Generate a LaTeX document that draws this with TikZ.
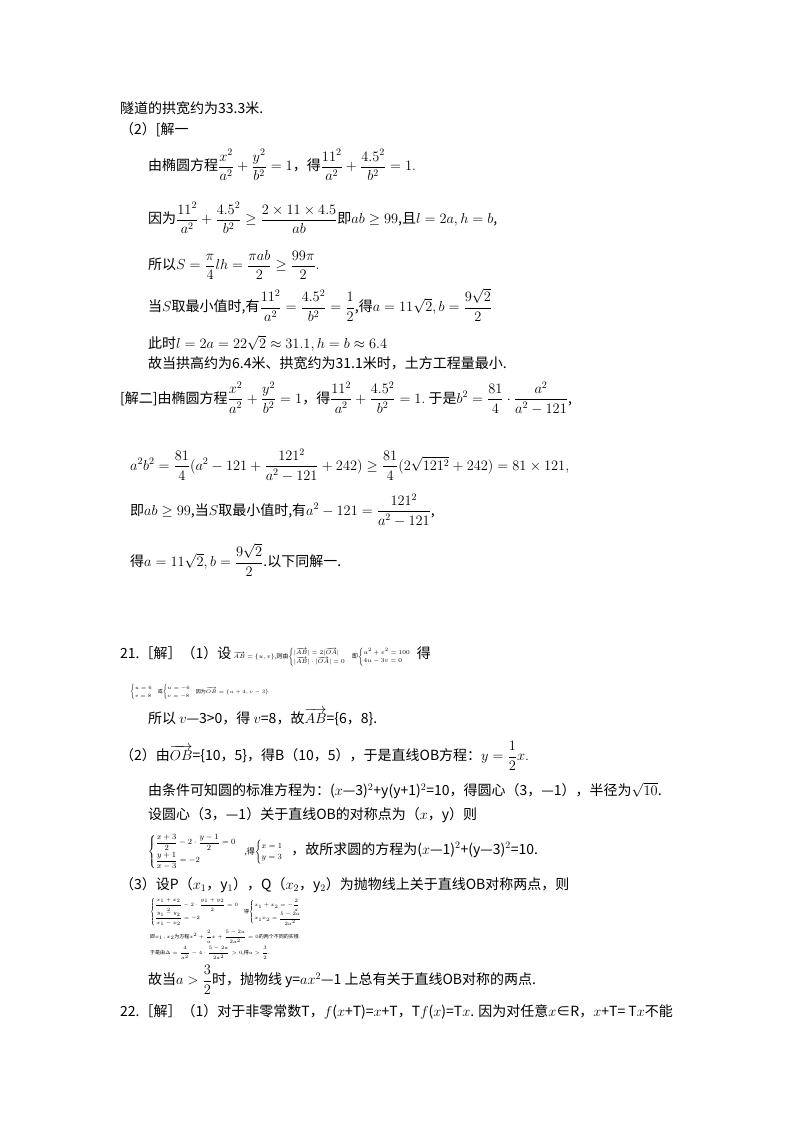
\documentclass[tikz,border=0pt]{standalone}
\usepackage{amsmath,amssymb}
\usepackage{fontspec}
\newfontfamily\cjk{Noto Sans CJK SC}
\begin{document}
\begin{tikzpicture}[x=1pt,y=-1pt,
  ln/.style={anchor=west,inner sep=0pt,font=\fontsize{14}{17}\selectfont\cjk},
  sm/.style={anchor=west,inner sep=0pt,font=\fontsize{5}{6}\selectfont\cjk}]
\useasboundingbox[fill=white] (0,0) rectangle (800,1132);
\node[ln] (l1) at (120,108) {隧道的拱宽约为33.3米.};
\node[ln] (l2) at (120,130) {（2）[解一};
\node[ln] (l3) at (148,165) {由椭圆方程$\dfrac{x^2}{a^2}+\dfrac{y^2}{b^2}=1$，得$\dfrac{11^2}{a^2}+\dfrac{4.5^2}{b^2}=1.$};
\node[ln] (l4) at (148,218) {因为$\dfrac{11^2}{a^2}+\dfrac{4.5^2}{b^2}\ge\dfrac{2\times11\times4.5}{ab}$即$ab\ge99$,且$l=2a,h=b$,};
\node[ln] (l5) at (148,265) {所以$S=\dfrac{\pi}{4}lh=\dfrac{\pi ab}{2}\ge\dfrac{99\pi}{2}.$};
\node[ln] (l6) at (148,305) {当$S$取最小值时,有$\dfrac{11^2}{a^2}=\dfrac{4.5^2}{b^2}=\dfrac12$,得$a=11\sqrt2,b=\dfrac{9\sqrt2}{2}$};
\node[ln] (l7) at (148,343) {此时$l=2a=22\sqrt2\approx31.1,h=b\approx6.4$};
\node[ln] (l8) at (148,363) {故当拱高约为6.4米、拱宽约为31.1米时，土方工程量最小.};
\node[ln] (l9) at (120,398) {[解二]由椭圆方程$\dfrac{x^2}{a^2}+\dfrac{y^2}{b^2}=1$，得$\dfrac{11^2}{a^2}+\dfrac{4.5^2}{b^2}=1.$ 于是$b^2=\dfrac{81}{4}\cdot\dfrac{a^2}{a^2-121}$,};
\node[ln] (l10) at (130,465) {$a^2b^2=\dfrac{81}{4}(a^2-121+\dfrac{121^2}{a^2-121}+242)\ge\dfrac{81}{4}(2\sqrt{121^2}+242)=81\times121,$};
\node[ln] (l11) at (130,510) {即$ab\ge99$,当$S$取最小值时,有$a^2-121=\dfrac{121^2}{a^2-121}$,};
\node[ln] (l12) at (130,560) {得$a=11\sqrt2,b=\dfrac{9\sqrt2}{2}$.以下同解一.};
\node[ln] (l13) at (120,656) {21.［解］（1）设\,{\fontsize{6}{7}\selectfont$\overrightarrow{AB}=\{u,v\}$,则由$\begin{cases}|\overrightarrow{AB}|=2|\overrightarrow{OA}|\\|\overrightarrow{AB}|\cdot|\overrightarrow{OA}|=0\end{cases}$即$\begin{cases}u^2+v^2=100\\4u-3v=0\end{cases}$}得};
\node[sm] (l14) at (130,692) {$\begin{cases}u=6\\v=8\end{cases}$或$\begin{cases}u=-6\\v=-8\end{cases}$因为$\overrightarrow{OB}=\{u+4,v-3\}$};
\node[ln] (l15) at (148,717) {所以 $v$—3>0，得 $v$=8，故$\overrightarrow{AB}$=\{6，8\}.};
\node[ln] (l16) at (120,756) {（2）由$\overrightarrow{OB}$=\{10，5\}，得B（10，5），于是直线OB方程：$y=\dfrac12x.$};
\node[ln] (l17) at (148,791) {由条件可知圆的标准方程为：($x$—3)$^2$+y(y+1)$^2$=10，得圆心（3，—1），半径为$\sqrt{10}$.};
\node[ln] (l18) at (148,815) {设圆心（3，—1）关于直线OB的对称点为（$x$，y）则};
\node[ln] (l19) at (148,852) {{\fontsize{8}{9}\selectfont$\begin{cases}\dfrac{x+3}{2}-2\cdot\dfrac{y-1}{2}=0\\[4pt]\dfrac{y+1}{x-3}=-2\end{cases}$,得$\begin{cases}x=1\\y=3\end{cases}$}，故所求圆的方程为($x$—1)$^2$+(y—3)$^2$=10.};
\node[ln] (l20) at (120,885) {（3）设P（$x_1$，y$_1$），Q（$x_2$，y$_2$）为抛物线上关于直线OB对称两点，则};
\node[sm] (l21) at (150,912) {$\begin{cases}\dfrac{x_1+x_2}{2}-2\cdot\dfrac{y_1+y_2}{2}=0\\[3pt] \dfrac{y_1-y_2}{x_1-x_2}=-2\end{cases}$得$\begin{cases}x_1+x_2=-\dfrac{2}{a}\\[3pt] x_1x_2=\dfrac{5-2a}{2a^2}\end{cases}$};
\node[sm] (l22) at (150,937) {即$x_1,x_2$为方程$x^2+\dfrac{2}{a}x+\dfrac{5-2a}{2a^2}=0$的两个不同的实根.};
\node[sm] (l23) at (150,953) {于是由$\Delta=\dfrac{4}{a^2}-4\cdot\dfrac{5-2a}{2a^2}>0$,得$a>\dfrac32$.};
\node[ln] (l24) at (148,980) {故当$a>\dfrac32$时，抛物线 y=$ax^2$—1 上总有关于直线OB对称的两点.};
\node[ln] (l25) at (120,1012) {22.［解］（1）对于非零常数T，$f$($x$+T)=$x$+T，T$f$($x$)=T$x$. 因为对任意$x$∈R，$x$+T= T$x$不能};
\end{tikzpicture}
\end{document}
